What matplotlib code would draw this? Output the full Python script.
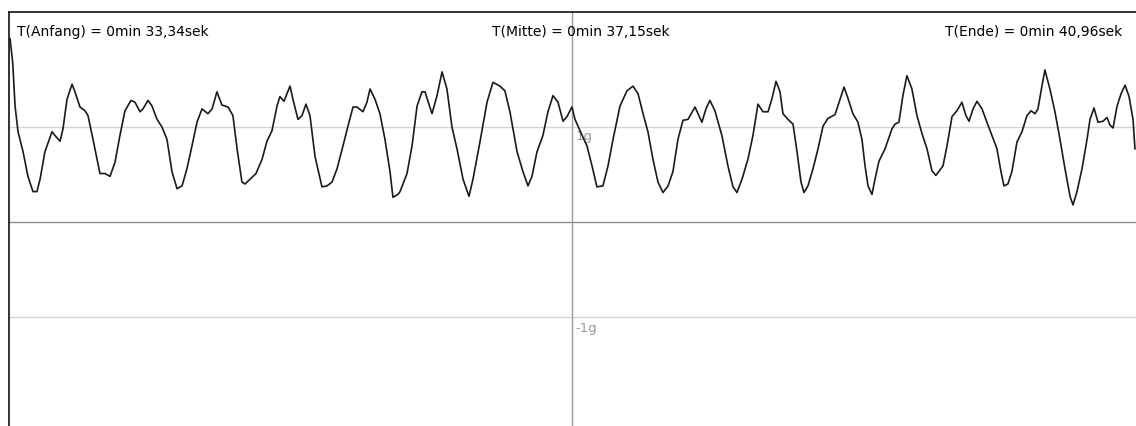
import matplotlib.pyplot as plt

# Start/end/middle time of the window (seconds)
t_start = 33.34
t_mid = 37.15
t_end = 40.96

# acceleration trace: time offset from t_start (s) and value (g)
t_rel = [
    0.007, 0.025, 0.041, 0.061, 0.095, 0.128, 0.162, 0.189, 0.210, 0.243,
    0.291, 0.311, 0.345, 0.365, 0.392, 0.426, 0.446, 0.480, 0.514, 0.534,
    0.568, 0.615, 0.649, 0.683, 0.717, 0.750, 0.784, 0.825, 0.852, 0.886,
    0.906, 0.940, 0.967, 1.001, 1.034, 1.068, 1.102, 1.136, 1.170, 1.203,
    1.237, 1.271, 1.305, 1.345, 1.373, 1.406, 1.440, 1.481, 1.514, 1.542,
    1.575, 1.596, 1.630, 1.670, 1.711, 1.744, 1.778, 1.812, 1.832, 1.859,
    1.900, 1.920, 1.954, 1.981, 2.008, 2.035, 2.069, 2.116, 2.150, 2.184,
    2.218, 2.258, 2.292, 2.326, 2.353, 2.393, 2.420, 2.441, 2.475, 2.508,
    2.542, 2.576, 2.596, 2.630, 2.644, 2.691, 2.725, 2.759, 2.792, 2.813,
    2.833, 2.860, 2.894, 2.928, 2.961, 2.995, 3.029, 3.070, 3.110, 3.137,
    3.184, 3.232, 3.272, 3.320, 3.353, 3.387, 3.435, 3.475, 3.509, 3.536,
    3.570, 3.610, 3.644, 3.678, 3.712, 3.746, 3.773, 3.806, 3.827, 3.861,
    3.908, 3.942, 3.975, 4.016, 4.050, 4.084, 4.131, 4.178, 4.219, 4.253,
    4.287, 4.320, 4.354, 4.388, 4.422, 4.456, 4.489, 4.523, 4.557, 4.591,
    4.638, 4.685, 4.712, 4.739, 4.773, 4.820, 4.861, 4.895, 4.922, 4.956,
    4.996, 5.030, 5.064, 5.098, 5.132, 5.159, 5.186, 5.213, 5.233, 5.267,
    5.301, 5.328, 5.355, 5.375, 5.402, 5.436, 5.470, 5.504, 5.537, 5.585,
    5.612, 5.646, 5.673, 5.706, 5.740, 5.767, 5.788, 5.808, 5.835, 5.855,
    5.882, 5.923, 5.970, 5.990, 6.017, 6.044, 6.071, 6.105, 6.139, 6.173,
    6.207, 6.240, 6.267, 6.315, 6.342, 6.376, 6.409, 6.443, 6.470, 6.491,
    6.518, 6.545, 6.579, 6.612, 6.646, 6.680, 6.707, 6.727, 6.754, 6.781,
    6.815, 6.849, 6.883, 6.910, 6.937, 6.957, 6.984, 7.004, 7.038, 7.072,
    7.106, 7.140, 7.174, 7.194, 7.221, 7.255, 7.289, 7.309, 7.336, 7.363,
    7.397, 7.424, 7.444, 7.465, 7.492, 7.519, 7.546, 7.573, 7.600, 7.613,
]
accel_g = [
    1.93, 1.68, 1.22, 0.95, 0.74, 0.48, 0.32, 0.32, 0.45, 0.74,
    0.95, 0.91, 0.85, 0.98, 1.29, 1.45, 1.37, 1.21, 1.17, 1.12,
    0.87, 0.51, 0.51, 0.48, 0.63, 0.91, 1.17, 1.28, 1.26, 1.16,
    1.19, 1.28, 1.22, 1.08, 1.00, 0.87, 0.53, 0.35, 0.38, 0.56,
    0.80, 1.05, 1.19, 1.14, 1.19, 1.37, 1.23, 1.21, 1.12, 0.77,
    0.42, 0.40, 0.45, 0.51, 0.66, 0.85, 0.96, 1.22, 1.32, 1.27,
    1.43, 1.29, 1.08, 1.12, 1.24, 1.12, 0.69, 0.37, 0.38, 0.42,
    0.56, 0.80, 1.01, 1.21, 1.21, 1.16, 1.26, 1.40, 1.29, 1.14,
    0.87, 0.53, 0.26, 0.29, 0.32, 0.51, 0.80, 1.22, 1.37, 1.37,
    1.27, 1.14, 1.33, 1.58, 1.40, 1.00, 0.77, 0.45, 0.27, 0.45,
    0.84, 1.26, 1.47, 1.43, 1.38, 1.16, 0.74, 0.53, 0.38, 0.48,
    0.74, 0.91, 1.16, 1.33, 1.26, 1.06, 1.11, 1.21, 1.08, 0.96,
    0.80, 0.59, 0.37, 0.38, 0.59, 0.87, 1.22, 1.38, 1.43, 1.35,
    1.14, 0.95, 0.66, 0.42, 0.31, 0.38, 0.53, 0.87, 1.07, 1.08,
    1.21, 1.05, 1.19, 1.28, 1.17, 0.91, 0.59, 0.37, 0.31, 0.45,
    0.66, 0.91, 1.24, 1.16, 1.16, 1.30, 1.48, 1.37, 1.14, 1.08,
    1.03, 0.74, 0.42, 0.31, 0.38, 0.56, 0.77, 1.01, 1.09, 1.13,
    1.26, 1.42, 1.30, 1.14, 1.05, 0.87, 0.59, 0.38, 0.29, 0.45,
    0.64, 0.77, 0.98, 1.03, 1.05, 1.33, 1.54, 1.40, 1.12, 0.93,
    0.77, 0.54, 0.49, 0.59, 0.80, 1.11, 1.17, 1.26, 1.12, 1.06,
    1.19, 1.27, 1.19, 1.05, 0.91, 0.77, 0.53, 0.38, 0.40, 0.53,
    0.84, 0.95, 1.12, 1.17, 1.14, 1.19, 1.43, 1.60, 1.40, 1.16,
    0.87, 0.56, 0.27, 0.18, 0.32, 0.56, 0.87, 1.08, 1.20, 1.05,
    1.06, 1.10, 1.02, 0.99, 1.22, 1.35, 1.44, 1.32, 1.08, 0.77,
]

time = [t_start + d for d in t_rel]

FONT = ['DejaVu Sans']

fig = plt.figure(figsize=(11.36, 4.27), dpi=100)
ax = fig.add_axes([9 / 1136, 0, 1127 / 1136, 414 / 427])

# reference lines
ax.axhline(1, color='#d4d4d4', lw=1.0, zorder=1)
ax.axhline(-1, color='#d4d4d4', lw=1.0, zorder=1)
ax.axhline(0, color='#8c8c8c', lw=1.0, zorder=1)
ax.axvline(t_mid, color='#9a9a9a', lw=1.0, zorder=1)

ax.plot(time, accel_g, color='#1a1a1a', lw=1.2, zorder=3)

ax.set_xlim(t_start, t_end)
ax.set_ylim(-2.147, 2.21)

ax.text(t_mid + 0.02, 0.98, '1g', color='#9a9a9a', fontsize=9.5,
        family=FONT, ha='left', va='top', zorder=2)
ax.text(t_mid + 0.02, -1.04, '-1g', color='#9a9a9a', fontsize=9.5,
        family=FONT, ha='left', va='top', zorder=2)

# time stamps at the top
ax.text(0.007, 0.955, 'T(Anfang) = 0min 33,34sek', transform=ax.transAxes,
        fontsize=10, family=FONT, ha='left', va='center')
ax.text(0.507, 0.955, 'T(Mitte) = 0min 37,15sek', transform=ax.transAxes,
        fontsize=10, family=FONT, ha='center', va='center')
ax.text(0.988, 0.955, 'T(Ende) = 0min 40,96sek', transform=ax.transAxes,
        fontsize=10, family=FONT, ha='right', va='center')

ax.set_xticks([])
ax.set_yticks([])
for side in ['right', 'bottom']:
    ax.spines[side].set_visible(False)
for side in ['left', 'top']:
    ax.spines[side].set_linewidth(1.2)
    ax.spines[side].set_color('#111111')

plt.savefig('out.png', dpi=100)
